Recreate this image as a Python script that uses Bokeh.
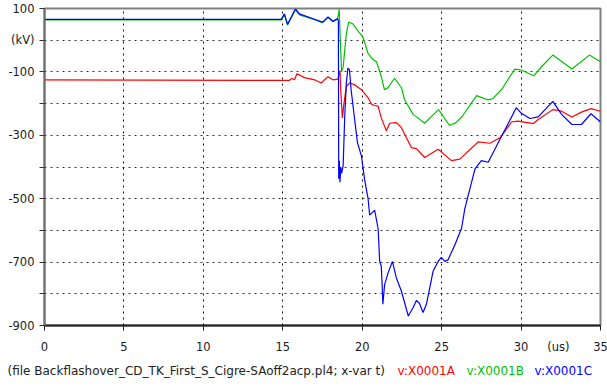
from bokeh.plotting import figure
from bokeh.models import FixedTicker, Range1d
from bokeh.layouts import column
from bokeh.core.properties import value
from bokeh.embed import file_html
from bokeh.resources import INLINE

# ---- data ----
t_a = [0, 15.4, 15.57, 15.74, 15.89, 16.37, 17.0, 17.42, 17.84, 18.16, 18.47, 18.6, 18.65, 18.75,
       18.85, 19.0, 19.2, 19.5, 19.8, 19.95, 20.35, 20.6, 20.8, 21.0, 21.2, 21.52, 21.73, 22.15,
       22.47, 23.1, 23.41, 23.93, 24.78, 25.62, 26.14, 27.3, 28.03, 28.7, 29.4, 29.8, 30.77,
       31.08, 32.0, 32.55, 33.2, 33.8, 34.4, 35.0]
v_a = [-125, -127, -121, -125, -106, -118, -125, -135, -115, -125, -123, -96, -160, -245,
       -200, -146, -135, -140, -151, -156, -180, -203, -206, -208, -245, -286, -262, -260,
       -276, -339, -342, -370, -344, -380, -375, -321, -325, -307, -258, -255, -263,
       -250, -219, -224, -242, -227, -216, -224]

t_b = [0, 14.9, 15.1, 15.3, 15.8, 16.05, 17.0, 17.5, 17.85, 18.15, 18.45, 18.55, 18.62, 18.7,
       18.8, 19.0, 19.15, 19.4, 19.7, 20.05, 20.37, 20.7, 20.9, 21.2, 21.4, 21.6, 22.04, 22.47,
       22.67, 23.2, 23.5, 23.93, 24.8, 25.5, 25.9, 26.3, 27.2, 27.9, 28.2, 28.8, 29.6, 30.0,
       30.8, 31.3, 32.0, 33.2, 34.3, 35.0]
v_b = [64, 64, 80, 48, 96, 80, 65, 55, 72, 58, 66, 97, 0, -100,
       -85, 21, 57, 52, 31, 10, -42, -62, -68, -115, -156, -151, -120, -150,
       -188, -234, -245, -262, -219, -269, -260, -240, -175, -188, -185, -154, -91, -94,
       -112, -83, -47, -91, -47, -68]

t_c = [0, 14.9, 15.1, 15.3, 15.8, 16.05, 17.0, 17.5, 17.85, 18.15, 18.45, 18.5, 18.52, 18.56,
       18.6, 18.65, 18.7, 18.8, 18.9, 19.0, 19.1, 19.2, 19.3, 19.5, 19.7, 19.95, 20.15, 20.37,
       20.47, 20.78, 21.0, 21.1, 21.2, 21.25, 21.3, 21.41, 21.63, 21.9, 22.15, 22.47, 22.9,
       23.2, 23.41, 23.6, 23.83, 24.04, 24.46, 24.78, 24.98, 25.2, 25.4, 25.83, 26.25, 26.46,
       27.1, 27.5, 27.93, 28.73, 29.0, 29.7, 30.0, 30.56, 31.08, 32.0, 32.55, 33.2, 33.8,
       34.4, 35.0]
v_c = [66, 66, 83, 50, 99, 83, 66, 57, 73, 60, 68, 60, -437, -380,
       -448, -400, -420, -396, -240, -135, -88, -94, -156, -240, -323, -365, -440, -500,
       -552, -536, -594, -698, -713, -766, -833, -771, -734, -698, -750, -792, -870,
       -844, -821, -830, -859, -833, -729, -698, -685, -698, -693, -646, -594, -531,
       -406, -380, -385, -307, -281, -213, -230, -247, -242, -193, -234, -266, -266,
       -232, -258]

x_ticks = [0, 5, 10, 15, 20, 25, 30, 35]
x_unit_pos = 32.35
x_unit_label = "(us)"
y_ticks = [100, 0, -100, -200, -300, -400, -500, -600, -700, -800, -900]
y_labels = {100: "100", 0: "(kV)", -100: "-100", -200: "", -300: "-300", -400: "",
            -500: "-500", -600: "", -700: "-700", -800: "", -900: "-900"}
footer_texts = ["(file Backflashover_CD_TK_First_S_Cigre-SAoff2acp.pl4; x-var t)",
                "v:X0001A", "v:X0001B", "v:X0001C"]
footer_colors = ["#222222", "#ff0000", "#00c000", "#0000ff"]
series_colors = ["#ff0000", "#00c000", "#0000ff"]

FONT = "DejaVu Sans"

p = figure(width=607, height=356, output_backend="svg", toolbar_location=None,
           x_range=Range1d(0, 35), y_range=Range1d(-900, 100),
           min_border_left=44, min_border_right=7, min_border_top=8, min_border_bottom=28,
           background_fill_color="white", border_fill_color="white")

p.outline_line_color = "#808080"
p.outline_line_width = 2

for ax in (p.xaxis[0], p.yaxis[0]):
    ax.major_label_text_font = FONT
    ax.major_label_text_font_size = "11.5px"
    ax.major_label_text_color = "#1a1a1a"

# x axis: visible tick marks are the (fixed) minor ticks; the unit label rides on a major tick of zero length
xa = p.xaxis[0]
xa.ticker = FixedTicker(ticks=x_ticks + [x_unit_pos], minor_ticks=x_ticks)
xa.major_label_overrides = {**{k: str(k) for k in x_ticks}, x_unit_pos: x_unit_label}
xa.major_tick_in = 0
xa.major_tick_out = 0
xa.minor_tick_in = 0
xa.minor_tick_out = 5
xa.minor_tick_line_color = "#202020"
xa.major_label_standoff = 9
xa.axis_line_color = "#202020"
xa.axis_line_width = 2

ya = p.yaxis[0]
ya.ticker = FixedTicker(ticks=y_ticks)
ya.major_label_overrides = y_labels
ya.major_tick_in = 0
ya.major_tick_out = 5
ya.minor_tick_in = 0
ya.minor_tick_out = 0
ya.axis_line_color = "#707070"
ya.axis_line_width = 2
ya.major_tick_line_color = "#303030"
ya.major_label_standoff = 5

p.xgrid.ticker = FixedTicker(ticks=x_ticks)
p.xgrid.grid_line_color = "#111111"
p.xgrid.grid_line_dash = "dotted"
p.xgrid.grid_line_width = 1
p.ygrid.ticker = FixedTicker(ticks=y_ticks)
p.ygrid.grid_line_color = "#333333"
p.ygrid.grid_line_dash = "dotted"
p.ygrid.grid_line_width = 1

for t, v, c in ((t_a, v_a, series_colors[0]), (t_b, v_b, series_colors[1]), (t_c, v_c, series_colors[2])):
    p.line(t, v, line_color=c, line_width=1.2)

# footer line (file name and colored series names) as a text strip below the chart
W, H = 607, 31
f = figure(width=W, height=H, output_backend="svg", toolbar_location=None,
           x_range=Range1d(0, W), y_range=Range1d(0, H),
           x_axis_location=None, y_axis_location=None,
           min_border_left=0, min_border_right=0, min_border_top=0, min_border_bottom=0,
           background_fill_color="white", border_fill_color="white")
f.outline_line_color = None
f.grid.visible = False
f.text(x=[7, 397, 466, 534], y=[17, 17, 17, 17], text=footer_texts, text_color=footer_colors,
       text_font=value(FONT), text_font_size=value("12px"),
       text_align="left", text_baseline="middle")

# keep the strip's frame independent of the chart's frame
for fig in (p, f):
    if "frame_align" in fig.properties():
        fig.frame_align = False

layout = column(p, f, spacing=0)
open("out.html", "w").write(file_html(layout, INLINE))
